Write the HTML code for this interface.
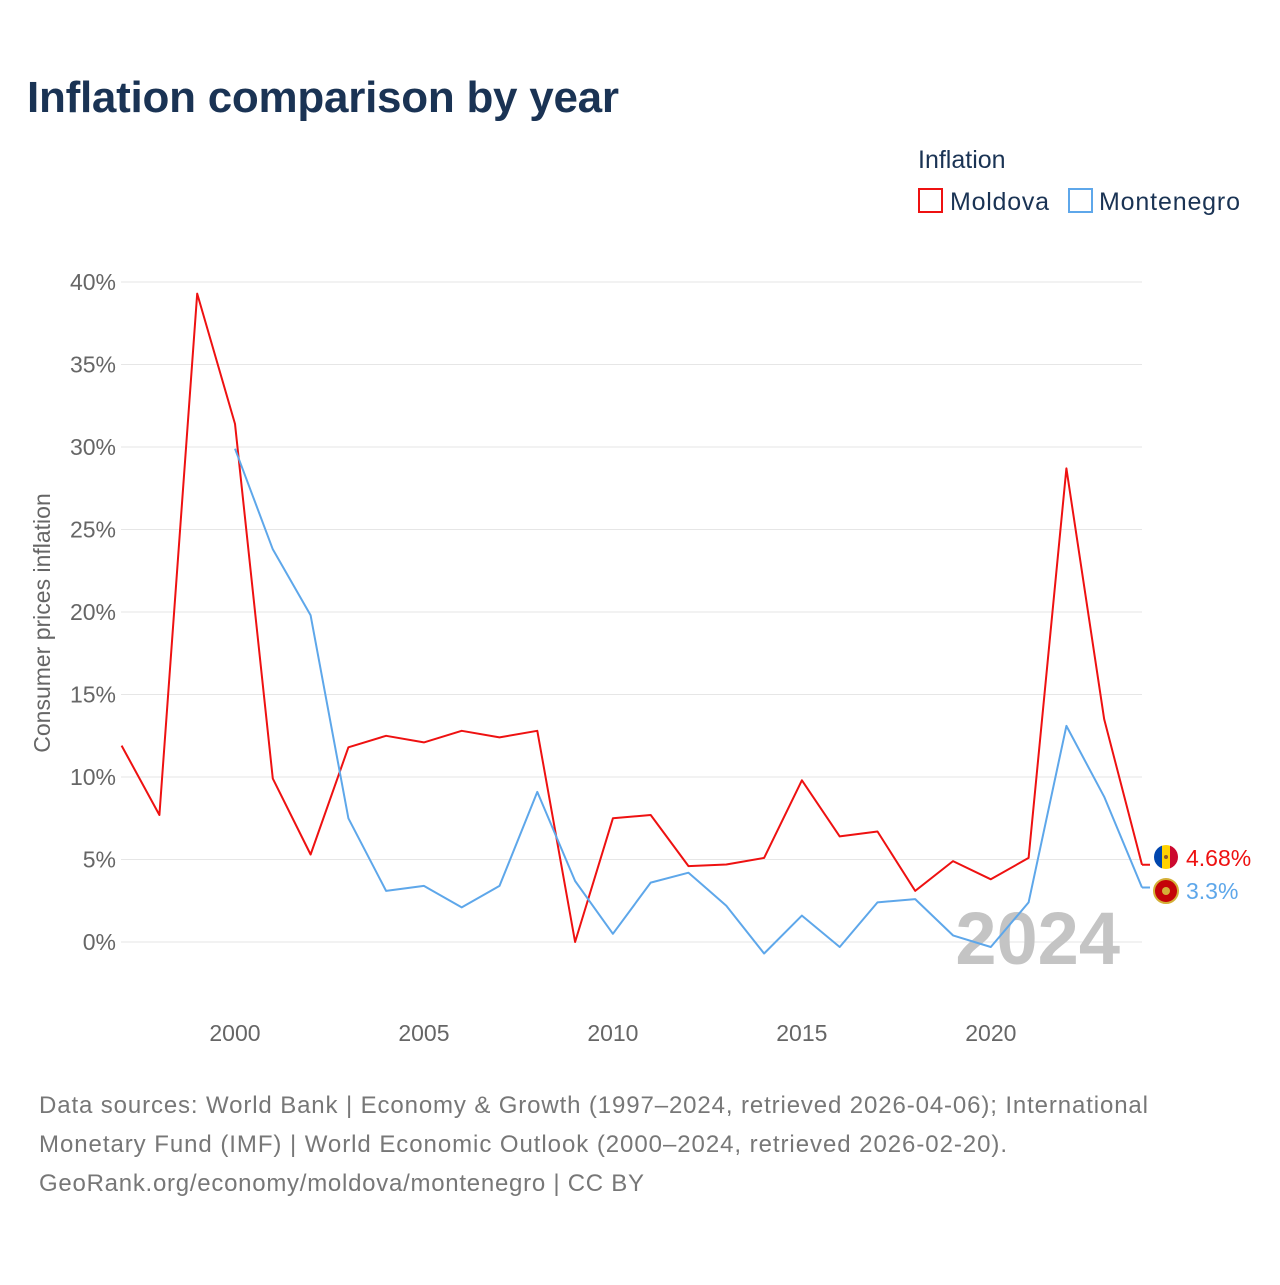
<!DOCTYPE html>
<html><head><meta charset="utf-8">
<style>
body{margin:0;background:#fff;width:1280px;height:1280px;overflow:hidden;font-family:"Liberation Sans",sans-serif}
</style></head>
<body>
<svg width="1280" height="1280" viewBox="0 0 1280 1280" id="chart">
<text x="27" y="112" font-size="44" font-weight="bold" fill="#1a3354" textLength="592">Inflation comparison by year</text>
<text x="918" y="168" font-size="25" fill="#1a3354">Inflation</text>
<g>
<rect x="919" y="189" width="23" height="23" fill="none" stroke="#ee1111" stroke-width="2"/>
<text x="950" y="210" font-size="25" fill="#1a3354" textLength="99">Moldova</text></g>
<g>
<rect x="1069" y="189" width="23" height="23" fill="none" stroke="#5ea7ea" stroke-width="2"/>
<text x="1099" y="210" font-size="25" fill="#1a3354" textLength="141">Montenegro</text></g>
<text transform="translate(50,623) rotate(-90)" text-anchor="middle" font-size="23" fill="#666">Consumer prices inflation</text>
<g id="grid"></g><g id="yticks"></g><g id="xticks"></g>
<text x="1120" y="964" text-anchor="end" font-size="74" font-weight="bold" fill="#c4c4c4">2024</text>
<g id="series"></g>
<g>
<clipPath id="c1"><circle cx="1166" cy="857" r="12"/></clipPath>
<g clip-path="url(#c1)"><rect x="1154" y="845" width="8" height="24" fill="#0046ae"/><rect x="1162" y="845" width="8" height="24" fill="#ffd200"/><rect x="1170" y="845" width="8" height="24" fill="#cc092f"/></g>
<circle cx="1166" cy="857" r="2" fill="#8a5a2b"/></g>
<g>
<circle cx="1166" cy="891" r="12" fill="#c40308" stroke="#d4af37" stroke-width="2"/>
<circle cx="1166" cy="891" r="4" fill="#d4af37"/></g>
<text x="1186" y="866" font-size="23" fill="#ee1111">4.68%</text>
<text x="1186" y="899" font-size="23" fill="#5ea7ea">3.3%</text>
<text font-size="24" fill="#777">
<tspan x="39" y="1113" textLength="1109">Data sources: World Bank | Economy &amp; Growth (1997–2024, retrieved 2026-04-06); International</tspan>
<tspan x="39" y="1152" textLength="968">Monetary Fund (IMF) | World Economic Outlook (2000–2024, retrieved 2026-02-20).</tspan>
<tspan x="39" y="1191" textLength="605">GeoRank.org/economy/moldova/montenegro | CC BY</tspan></text>
</svg>
<script>
const yearsMoldova=[1997,1998,1999,2000,2001,2002,2003,2004,2005,2006,2007,2008,2009,2010,2011,2012,2013,2014,2015,2016,2017,2018,2019,2020,2021,2022,2023,2024];
const moldova=[11.9,7.7,39.3,31.4,9.9,5.3,11.8,12.5,12.1,12.8,12.4,12.8,0.0,7.5,7.7,4.6,4.7,5.1,9.8,6.4,6.7,3.1,4.9,3.8,5.1,28.7,13.5,4.68];
const yearsMontenegro=[2000,2001,2002,2003,2004,2005,2006,2007,2008,2009,2010,2011,2012,2013,2014,2015,2016,2017,2018,2019,2020,2021,2022,2023,2024];
const montenegro=[29.9,23.8,19.8,7.5,3.1,3.4,2.1,3.4,9.1,3.7,0.5,3.6,4.2,2.2,-0.7,1.6,-0.3,2.4,2.6,0.4,-0.3,2.4,13.1,8.8,3.3];
const yTicks=[0,5,10,15,20,25,30,35,40];
const xTicks=[2000,2005,2010,2015,2020];
const NS="http://www.w3.org/2000/svg";
const X=y=>121.6+(y-1997)*(1142-121.6)/27;
const Y=v=>942-v*16.5;
function mk(t,a,p){const e=document.createElementNS(NS,t);for(const k in a)e.setAttribute(k,a[k]);document.getElementById(p).appendChild(e);return e;}
yTicks.forEach(v=>{
 const l=mk('line',{x1:121,x2:1142,y1:Y(v),y2:Y(v),stroke:'#e6e6e6','stroke-width':1},'grid');
 
 
 const t=mk('text',{x:116,y:Y(v)+8,'text-anchor':'end','font-size':23,fill:'#666'},'yticks');
 t.textContent=v+'%';
 
 
});
xTicks.forEach(v=>{
 const t=mk('text',{x:X(v),y:1041,'text-anchor':'middle','font-size':23,fill:'#666'},'xticks');
 t.textContent=v;
 
 
});
function line(xs,vs,c,name){
 let d=xs.map((x,i)=>(i?'L':'M')+X(x).toFixed(1)+','+Y(vs[i]).toFixed(1)).join('');
 const last=Y(vs[vs.length-1]);
 d+='M'+X(2024)+','+last+'L1150,'+last;
 const p=mk('path',{d:d,fill:'none',stroke:c,'stroke-width':2,'stroke-linejoin':'round'},'series');
 
 
}
line(yearsMoldova,moldova,'#ee1111','moldova-line');
line(yearsMontenegro,montenegro,'#5ea7ea','montenegro-line');
</script>
</body></html>
